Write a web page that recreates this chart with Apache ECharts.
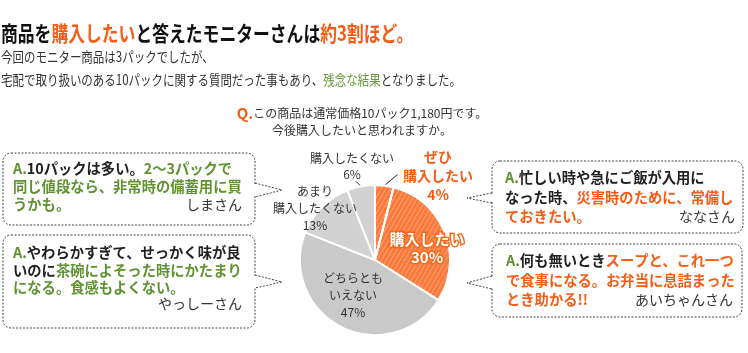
<!DOCTYPE html>
<html>
<head>
<meta charset="utf-8">
<script src="https://cdn.jsdelivr.net/npm/echarts@6/dist/echarts.min.js"></script>
<style>
html, body { margin: 0; padding: 0; background: #fff; }
#survey { width: 748px; height: 353px; }
</style>
</head>
<body>
<div id="survey"></div>
<script>
// 購入意向アンケート
const categories = ['ぜひ\n購入したい', '購入したい', 'どちらとも\nいえない', 'あまり\n購入したくない', '購入したくない']
const shares = [4, 30, 47, 13, 6]

const FONT = '"Noto Sans CJK JP", sans-serif'
const ORANGE = '#f55c14'
const GREEN = '#5f9231'

// ラベル位置 (中心)
const labelPos = [[438, 176], [427, 248], [353, 295], [315, 208], [352, 166]]
const lineDir = [[13, -11], null, null, null, [-5, -5]]

const sliceStyle = [
    { color: '#fb7a3b', decal: true, label: { position: 'outside', color: ORANGE, fontWeight: 'bold', fontSize: 14, lineHeight: 19 }, line: true },
    { color: '#fb7a3b', decal: true, label: { position: 'inside', color: '#fff', fontWeight: 'bold', fontSize: 15, lineHeight: 18, textBorderColor: '#f26b1d', textBorderWidth: 3 }, line: false },
    { color: '#c9c9c9', label: { position: 'inside', color: '#333', fontSize: 12, lineHeight: 17 }, line: false },
    { color: '#d2d2d2', label: { position: 'outside', color: '#333', fontSize: 12, lineHeight: 17 }, line: false },
    { color: '#d2d2d2', label: { position: 'outside', color: '#333', fontSize: 12, lineHeight: 16 }, line: true }
]

const hatch = {
    symbol: 'rect',
    color: 'rgba(255,255,255,0.28)',
    dashArrayX: [1, 0],
    dashArrayY: [1, 3],
    rotation: -Math.PI / 3
}

const dashed = { stroke: '#444', lineWidth: 1, lineDash: [2, 1.5] }

// 吹き出し (角丸の枠 + しっぽ)
function bubble(x, y, w, h, tail) {
    let bx = tail.side === 'right' ? x + w : x
    return [
        { type: 'rect', shape: { x: x, y: y, width: w, height: h, r: 8 }, style: Object.assign({ fill: '#fff' }, dashed) },
        { type: 'line', shape: { x1: bx, y1: tail.y1 + 1, x2: bx, y2: tail.y2 - 1 }, style: { stroke: '#fff', lineWidth: 3 } },
        { type: 'polyline', shape: { points: [[bx, tail.y1], [tail.tx, tail.ty], [bx, tail.y2]] }, style: Object.assign({ fill: null }, dashed) }
    ]
}

const bubbleRich = {
    g: { fill: GREEN, fontWeight: 'bold', fontSize: 14.3, fontFamily: FONT },
    k: { fill: '#222', fontWeight: 'bold', fontSize: 14.3, fontFamily: FONT },
    o: { fill: ORANGE, fontWeight: 'bold', fontSize: 14.3, fontFamily: FONT }
}

function bubbleText(x, y, text, lh) {
    return {
        type: 'text', x: x, y: y,
        style: { text: text, rich: bubbleRich, lineHeight: lh, verticalAlign: 'top', fontFamily: FONT }
    }
}

function nameText(x, y, text) {
    return {
        type: 'text', x: x, y: y,
        style: { text: text, fill: '#333', fontSize: 14, fontFamily: FONT, align: 'right', verticalAlign: 'middle' }
    }
}

let chart = echarts.init(document.getElementById('survey'))

chart.setOption({
    textStyle: { fontFamily: FONT },
    animation: false,
    graphic: [
        {
            type: 'text', x: 1, y: 33, scaleX: 0.8,
            style: {
                text: '{k|商品を}{o|購入したい}{k|と答えたモニターさんは}{o|約3割ほど。}',
                verticalAlign: 'middle',
                rich: {
                    k: { fill: '#111', fontSize: 21, fontWeight: 'bold', fontFamily: FONT },
                    o: { fill: ORANGE, fontSize: 21, fontWeight: 'bold', fontFamily: FONT }
                }
            }
        },
        {
            type: 'text', x: 1, y: 57, scaleX: 0.82,
            style: { text: '今回のモニター商品は3パックでしたが、', fill: '#333', fontSize: 14, fontFamily: FONT, verticalAlign: 'middle' }
        },
        {
            type: 'text', x: 1, y: 80, scaleX: 0.82,
            style: {
                text: '{k|宅配で取り扱いのある10パックに関する質問だった事もあり、}{g|残念な結果}{k|となりました。}',
                verticalAlign: 'middle',
                rich: {
                    k: { fill: '#333', fontSize: 14, fontFamily: FONT },
                    g: { fill: '#6a9a3f', fontSize: 14, fontFamily: FONT }
                }
            }
        },
        {
            type: 'text', x: 362, y: 113,
            style: {
                text: '{q|Q.}{k|この商品は通常価格10パック1,180円です。}',
                align: 'center', verticalAlign: 'middle',
                rich: {
                    q: { fill: ORANGE, fontSize: 15, fontWeight: 'bold', fontFamily: FONT },
                    k: { fill: '#333', fontSize: 12, fontFamily: FONT }
                }
            }
        },
        {
            type: 'text', x: 362, y: 130,
            style: { text: '今後購入したいと思われますか。', fill: '#333', fontSize: 12, fontFamily: FONT, align: 'center', verticalAlign: 'middle' }
        }
    ].concat(
        bubble(3, 153, 252, 72, { side: 'right', y1: 183, tx: 282, ty: 190, y2: 197 }),
        [bubbleText(13, 160, '{g|A.}{k|10パックは多い。}{g|2～3パックで\n同じ値段なら、非常時の備蓄用に買\nうかも。}', 18),
         nameText(242, 205, 'しまさん')],

        bubble(3, 235, 252, 93, { side: 'right', y1: 275, tx: 282, ty: 282, y2: 288 }),
        [bubbleText(13, 244, '{g|A.}{k|やわらかすぎて、せっかく味が良\nいのに}{g|茶碗によそった時にかたまり\nになる。食感もよくない。}', 17.5),
         nameText(242, 304, 'やっしーさん')],

        bubble(492, 161, 251, 72, { side: 'left', y1: 193, tx: 467, ty: 198, y2: 203 }),
        [bubbleText(505, 168, '{g|A.}{k|忙しい時や急にご飯が入用に\nなった時、}{o|災害時のために、常備し\nておきたい。}', 19.5),
         nameText(735, 217, 'ななさん')],

        bubble(492, 244, 250, 73, { side: 'left', y1: 276, tx: 467, ty: 283, y2: 289 }),
        [bubbleText(506, 251, '{g|A.}{k|何も無いとき}{o|スープと、これ一つ\nで食事になる。お弁当に息詰まった\nとき助かる!!}', 19.5),
         nameText(733, 300, 'あいちゃんさん')]
    ),
    series: [{
        type: 'pie',
        center: [375, 260],
        radius: 75,
        startAngle: 90,
        clockwise: true,
        avoidLabelOverlap: false,
        silent: true,
        itemStyle: { borderColor: '#fff', borderWidth: 2 },
        label: { formatter: '{b}\n{c}%', fontFamily: FONT },
        labelLine: { show: true, length: 10, length2: 0, minTurnAngle: 0, lineStyle: { color: '#222', width: 1 } },
        labelLayout: function (params) {
            let i = params.dataIndex
            let out = { x: labelPos[i][0], y: labelPos[i][1], align: 'center', verticalAlign: 'middle' }
            if (lineDir[i] && params.labelLinePoints) {
                let a = params.labelLinePoints[0]
                let b = [a[0] + lineDir[i][0], a[1] + lineDir[i][1]]
                out.labelLinePoints = [[a[0], a[1]], [(a[0] + b[0]) / 2, (a[1] + b[1]) / 2], b]
            }
            return out
        },
        data: categories.map(function (name, i) {
            let s = sliceStyle[i]
            let item = {
                name: name,
                value: shares[i],
                itemStyle: { color: s.color },
                label: Object.assign({ align: 'center' }, s.label),
                labelLine: { show: s.line }
            }
            if (s.decal) item.itemStyle.decal = hatch
            return item
        })
    }]
})
</script>
</body>
</html>
